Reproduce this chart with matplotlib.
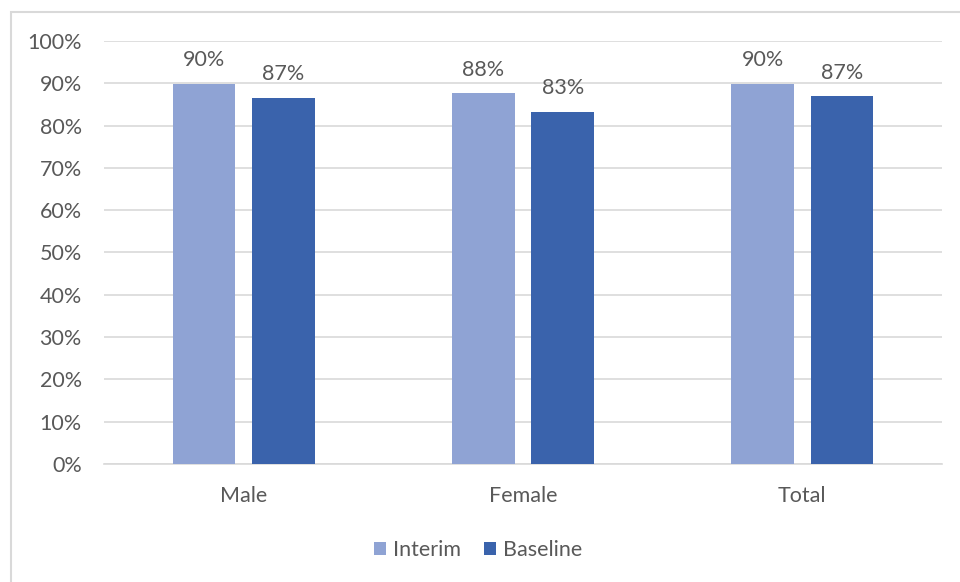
import matplotlib
matplotlib.use("Agg")
import matplotlib.pyplot as plt
from matplotlib.patches import Rectangle
import numpy as np

categories = ["Male", "Female", "Total"]
series_names = ["Interim", "Baseline"]
interim = [89.8, 87.6, 89.8]
baseline = [86.6, 83.2, 86.9]
yticks = [0, 10, 20, 30, 40, 50, 60, 70, 80, 90, 100]

plt.rcParams['font.family'] = ['Lato', 'DejaVu Sans']
TXT = '#595959'
C_INT = '#8FA3D4'
C_BASE = '#3A63AC'
FS = 15.5

fig = plt.figure(figsize=(9.6, 5.82), dpi=100)
# partial chart border (left and top visible)
fig.patches.append(Rectangle((11/960, -0.1), 1.2, (582-12)/582 + 0.1, transform=fig.transFigure,
                             fill=False, edgecolor='#d9d9d9', linewidth=1.5, zorder=0))

ax = fig.add_axes([104/960, 1-464/582, (942-104)/960, (464-41)/582])
x = np.arange(len(categories))
w = 0.224
off = 0.142
b1 = ax.bar(x - off, interim, w, color=C_INT, label=series_names[0], zorder=3)
b2 = ax.bar(x + off, baseline, w, color=C_BASE, label=series_names[1], zorder=3)

for bars, vals in ((b1, interim), (b2, baseline)):
    for r, v in zip(bars, vals):
        ax.annotate(f"{round(v):d}%", (r.get_x() + r.get_width()/2, v), xytext=(0, 10),
                    textcoords='offset points', ha='center', va='bottom', fontsize=FS, color=TXT)

ax.set_xlim(-0.5, 2.5)
ax.set_ylim(0, 100)
ax.set_yticks(yticks)
ax.set_yticklabels([f"{t}%" for t in yticks])
ax.set_xticks(x)
ax.set_xticklabels(categories)
ax.tick_params(axis='both', length=0, labelsize=FS, colors=TXT)
ax.tick_params(axis='y', pad=16)
ax.tick_params(axis='x', pad=16)
ax.yaxis.grid(True, color='#d9d9d9', linewidth=1.2, zorder=0)
ax.set_axisbelow(True)
for s in ('top', 'right', 'left'):
    ax.spines[s].set_visible(False)
ax.spines['bottom'].set_color('#d9d9d9')
ax.spines['bottom'].set_linewidth(1.2)

leg = fig.legend(handles=[b1, b2], labels=series_names, loc='center', bbox_to_anchor=(478/960, 1-550/582),
                 ncol=2, frameon=False, fontsize=FS, handlelength=0.55, handleheight=0.55,
                 handletextpad=0.3, columnspacing=1.1, labelcolor=TXT)

fig.savefig("out.png", dpi=100, facecolor='white')
